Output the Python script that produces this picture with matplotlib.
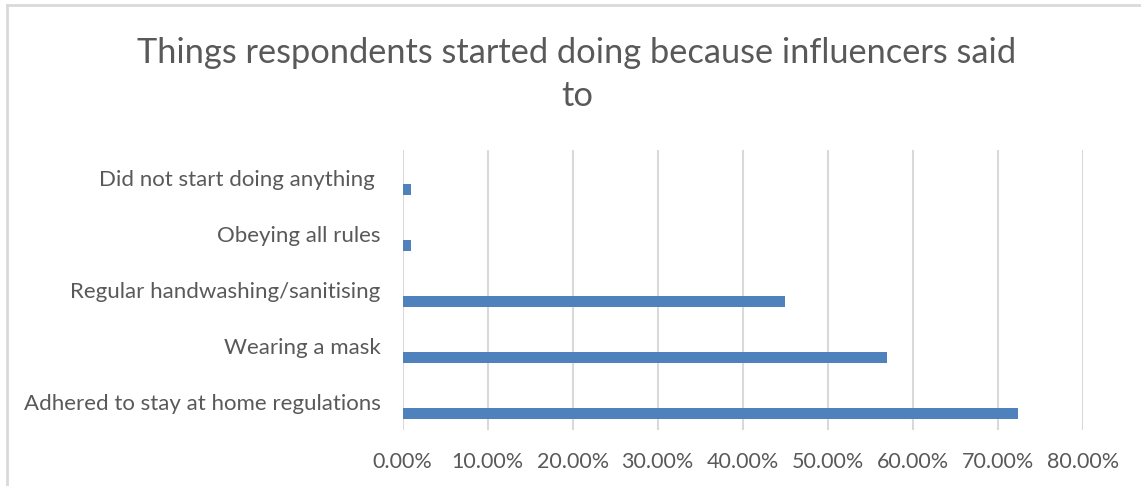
import matplotlib.pyplot as plt
from matplotlib.lines import Line2D
from matplotlib.ticker import FuncFormatter

# survey shares, bottom category first
categories = [
    "Adhered to stay at home regulations",
    "Wearing a mask",
    "Regular handwashing/sanitising",
    "Obeying all rules",
    "Did not start doing anything ",
]
shares = [72.35, 57.0, 45.0, 1.0, 1.0]
x_ticks = [0, 10, 20, 30, 40, 50, 60, 70, 80]

TEXT = "#595959"
GRID = "#d9d9d9"
BAR = "#4f81bd"

plt.rcParams["font.family"] = ["Lato", "DejaVu Sans"]

fig = plt.figure(figsize=(11.41, 4.86), dpi=100)
ax = fig.add_axes([0.3529, 0.1152, 0.5960, 0.5762])

pos = list(range(len(categories)))
ax.barh([p - 0.2 for p in pos], shares, height=0.2, color=BAR, zorder=3)

ax.set_xlim(0, 80)
ax.set_ylim(-0.5, len(categories) - 0.5)
ax.set_xticks(x_ticks)
ax.xaxis.set_major_formatter(FuncFormatter(lambda v, _: f"{v:.2f}%"))
ax.set_yticks(pos)
ax.set_yticklabels(categories)
ax.tick_params(axis="both", length=0, colors=TEXT)
ax.tick_params(axis="x", pad=16, labelsize=15.5)
ax.tick_params(axis="y", pad=16, labelsize=16)
ax.grid(axis="x", color=GRID, linewidth=1.5, zorder=0)
for side in ax.spines.values():
    side.set_visible(False)

fig.text(0.5057, 0.846, "Things respondents started doing because influencers said\nto",
         ha="center", va="center", fontsize=24.75, color=TEXT, linespacing=1.42)

# chart frame edges (left and top)
fig.add_artist(Line2D([0.0057, 0.0057], [0, 0.99], color=GRID, linewidth=2,
                      transform=fig.transFigure))
fig.add_artist(Line2D([0.0057, 1.0], [0.9897, 0.9897], color=GRID, linewidth=2,
                      transform=fig.transFigure))

fig.savefig("out.png", dpi=100)
